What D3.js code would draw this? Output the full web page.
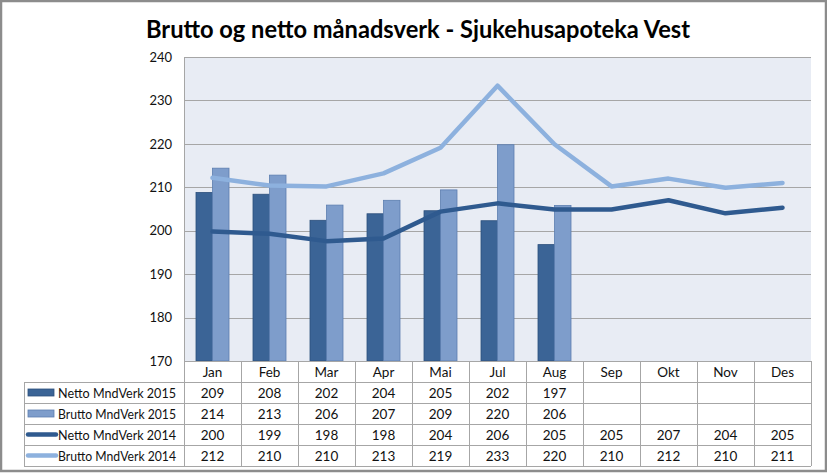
<!DOCTYPE html>
<html><head><meta charset="utf-8">
<script src="https://cdn.jsdelivr.net/npm/d3@7"></script>
<style>body{margin:0;background:#fff}svg{display:block}text{font-family:Lato,"Open Sans",sans-serif}</style>
</head><body>
<svg id="c" width="827" height="473"></svg>
<script>
const title = "Brutto og netto månadsverk - Sjukehusapoteka Vest";
const months = ["Jan","Feb","Mar","Apr","Mai","Jul","Aug","Sep","Okt","Nov","Des"];
const netto2015 = [208.8, 208.4, 202.4, 203.9, 204.6, 202.3, 196.8];
const brutto2015 = [214.4, 212.8, 205.9, 207.0, 209.4, 219.8, 205.8];
const netto2014 = [199.8, 199.3, 197.6, 198.2, 204.4, 206.3, 204.9, 204.9, 207.0, 204.0, 205.3];
const brutto2014 = [212.2, 210.4, 210.2, 213.2, 219.1, 233.4, 219.9, 210.2, 212.0, 209.9, 211.0];
const yTicks = [170, 180, 190, 200, 210, 220, 230, 240];
const seriesNames = ["Netto MndVerk 2015","Brutto MndVerk 2015","Netto MndVerk 2014","Brutto MndVerk 2014"];

const C = {dark:"#3b6496", darkStroke:"#2c4f7c", light:"#7e9dcb", lightStroke:"#5c7eb0",
           line1:"#2f5a8f", line2:"#8db1de", bg:"#e8ecf4", grid:"#a6a6a6", table:"#a6a6a6"};

const svg = d3.select("#c");
const L = 184, R = 811, T = 57, B = 361;
const x = d3.scaleBand().domain(months).range([L, R]).paddingInner(0).paddingOuter(0);
const y = d3.scaleLinear().domain([170, 240]).range([B, T]);
const sub = d3.scaleBand().domain(["n","b"]).range([-16.5, 16.5]);
const cx = m => x(m) + x.bandwidth() / 2;

// outer frame
svg.append("rect").attr("x",1).attr("y",1).attr("width",825).attr("height",470)
  .attr("fill","#fff").attr("stroke","#8c8c8c").attr("stroke-width",2.5);

// title
svg.append("text").attr("x",418).attr("y",38).attr("text-anchor","middle")
  .attr("font-size",24).attr("font-weight","bold").attr("fill","#000")
  .attr("textLength",544).attr("lengthAdjust","spacingAndGlyphs").text(title);

// plot bg
svg.append("rect").attr("x",L).attr("y",T).attr("width",R-L).attr("height",B-T).attr("fill",C.bg);

// grid
svg.append("g").selectAll("line").data(yTicks).join("line")
  .attr("x1",L).attr("x2",R).attr("y1",d=>Math.round(y(d))+0.5).attr("y2",d=>Math.round(y(d))+0.5)
  .attr("stroke",C.grid).attr("stroke-width",1);
svg.append("line").attr("x1",L+0.5).attr("x2",L+0.5).attr("y1",T).attr("y2",B).attr("stroke",C.grid);

// y axis labels
const yAxis = d3.axisLeft(y).tickValues(yTicks).tickSize(0).tickPadding(12);
const ga = svg.append("g").attr("transform",`translate(${L},0)`).call(yAxis);
ga.select(".domain").remove();
ga.selectAll("text").attr("font-size",13).attr("fill","#111").style("font-family","Lato, sans-serif");

// bars
const g = svg.append("g");
g.selectAll(".bn").data(netto2015).join("rect")
  .attr("x",(d,i)=>cx(months[i])+sub("n")).attr("width",sub.bandwidth())
  .attr("y",d=>y(d)).attr("height",d=>B-y(d))
  .attr("fill",C.dark).attr("stroke",C.darkStroke).attr("stroke-width",0.8);
g.selectAll(".bb").data(brutto2015).join("rect")
  .attr("x",(d,i)=>cx(months[i])+sub("b")).attr("width",sub.bandwidth())
  .attr("y",d=>y(d)).attr("height",d=>B-y(d))
  .attr("fill",C.light).attr("stroke",C.lightStroke).attr("stroke-width",0.8);

// lines
const line = d3.line().x((d,i)=>cx(months[i])).y(d=>y(d));
svg.append("path").datum(netto2014).attr("d",line).attr("fill","none")
  .attr("stroke",C.line1).attr("stroke-width",4.5).attr("stroke-linejoin","round").attr("stroke-linecap","round");
svg.append("path").datum(brutto2014).attr("d",line).attr("fill","none")
  .attr("stroke",C.line2).attr("stroke-width",4.5).attr("stroke-linejoin","round").attr("stroke-linecap","round");

// data table
const rowH = 21, tL = 24;
const rows = [netto2015, brutto2015, netto2014, brutto2014];
const tb = svg.append("g");
tb.append("line").attr("x1",L).attr("x2",R).attr("y1",B+0.5).attr("y2",B+0.5).attr("stroke",C.table);
for (let r = 1; r <= 5; r++) {
  tb.append("line").attr("x1",tL).attr("x2",R).attr("y1",B+r*rowH+0.5).attr("y2",B+r*rowH+0.5).attr("stroke",C.table);
}
tb.append("line").attr("x1",tL+0.5).attr("x2",tL+0.5).attr("y1",B+rowH).attr("y2",B+5*rowH).attr("stroke",C.table);
months.forEach(m=>{
  tb.append("line").attr("x1",Math.round(x(m))+0.5).attr("x2",Math.round(x(m))+0.5)
    .attr("y1",B).attr("y2",B+5*rowH).attr("stroke",C.table);
});
tb.append("line").attr("x1",R+0.5).attr("x2",R+0.5).attr("y1",B).attr("y2",B+5*rowH).attr("stroke",C.table);
tb.selectAll(".mh").data(months).join("text")
  .attr("x",d=>cx(d)).attr("y",B+rowH/2+5).attr("text-anchor","middle")
  .attr("font-size",13.5).attr("fill","#111").text(d=>d);
rows.forEach((arr,r)=>{
  tb.selectAll(".r"+r).data(arr).join("text")
    .attr("x",(d,i)=>cx(months[i])).attr("y",B+(r+1)*rowH+rowH/2+5).attr("text-anchor","middle")
    .attr("font-size",13.5).attr("fill","#111").text(d=>d3.format(".0f")(d));
});
seriesNames.forEach((name,r)=>{
  const yc = B+(r+1)*rowH+rowH/2;
  if (r < 2) {
    tb.append("rect").attr("x",28).attr("y",yc-3.5).attr("width",26).attr("height",7)
      .attr("fill",r===0?C.dark:C.light).attr("stroke",r===0?C.darkStroke:C.lightStroke).attr("stroke-width",0.8);
  } else {
    tb.append("line").attr("x1",28).attr("x2",56).attr("y1",yc).attr("y2",yc)
      .attr("stroke",r===2?C.line1:C.line2).attr("stroke-width",4.5).attr("stroke-linecap","round");
  }
  tb.append("text").attr("x",58).attr("y",yc+5).attr("font-size",13.5).attr("fill","#111")
    .attr("textLength",118).attr("lengthAdjust","spacingAndGlyphs").text(name);
});
</script>
</body></html>
